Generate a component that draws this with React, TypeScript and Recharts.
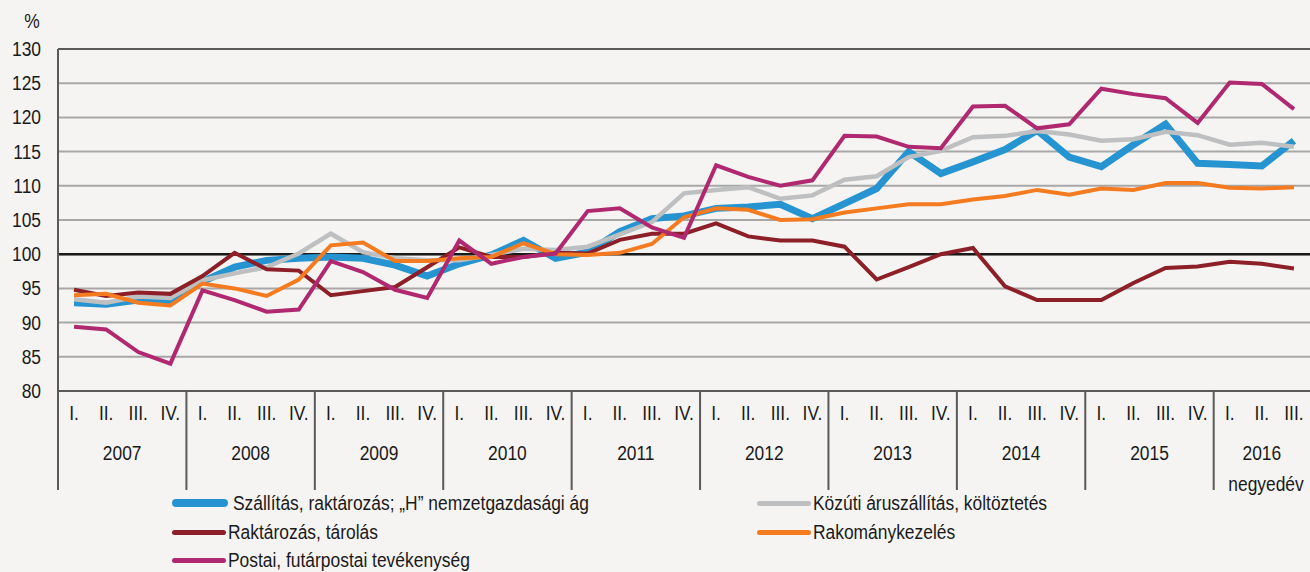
import { LineChart, Line, XAxis, YAxis, CartesianGrid, ReferenceLine } from "recharts";

const quarters = ["I.", "II.", "III.", "IV."];
const years = ["2007", "2008", "2009", "2010", "2011", "2012", "2013", "2014", "2015", "2016"];

// Szállítás, raktározás; „H” nemzetgazdasági ág
const szallitas = [
  92.9, 92.7, 93.3, 93.1, 96.0, 98.1, 99.1, 99.4,
  99.6, 99.4, 98.4, 96.8, 98.6, 99.9, 102.0, 99.4,
  100.3, 103.3, 105.2, 105.6, 106.7, 106.9, 107.3, 105.2,
  107.4, 109.6, 115.0, 111.8, 113.5, 115.3, 118.1, 114.2,
  112.8, 116.0, 119.0, 113.3, 113.1, 112.9, 116.6,
];
// Közúti áruszállítás, költöztetés
const kozuti = [
  93.4, 92.9, 93.8, 93.6, 96.2, 97.2, 98.1, 100.1,
  103.0, 100.3, 99.4, 99.1, 99.1, 99.9, 100.8, 100.6,
  101.1, 102.9, 104.7, 108.9, 109.4, 109.8, 108.1, 108.6,
  110.9, 111.4, 114.2, 115.1, 117.1, 117.3, 118.0, 117.5,
  116.6, 116.8, 117.9, 117.4, 116.0, 116.3, 115.7,
];
// Raktározás, tárolás
const raktarozas = [
  94.8, 93.9, 94.4, 94.2, 96.8, 100.2, 97.8, 97.6,
  94.0, 94.6, 95.2, 98.1, 101.0, 99.6, 99.6, 100.2,
  100.1, 102.1, 103.0, 103.0, 104.5, 102.6, 102.0, 102.0,
  101.1, 96.3, 98.1, 100.0, 100.9, 95.3, 93.3, 93.3,
  93.3, 95.8, 98.0, 98.2, 98.9, 98.6, 97.9,
];
// Rakománykezelés
const rakomany = [
  94.0, 94.2, 92.9, 92.5, 95.7, 95.0, 93.9, 96.3,
  101.3, 101.7, 99.0, 99.0, 99.4, 99.6, 101.6, 100.0,
  99.9, 100.2, 101.5, 105.4, 106.7, 106.5, 105.0, 105.1,
  106.1, 106.7, 107.3, 107.3, 108.0, 108.5, 109.4, 108.7,
  109.6, 109.4, 110.4, 110.4, 109.7, 109.6, 109.8,
];
// Postai, futárpostai tevékenység
const postai = [
  89.4, 89.0, 85.7, 84.0, 94.7, 93.3, 91.6, 91.9,
  99.0, 97.4, 94.8, 93.6, 102.0, 98.6, 99.6, 100.1,
  106.3, 106.7, 103.9, 102.4, 113.0, 111.3, 110.0, 110.8,
  117.3, 117.2, 115.7, 115.5, 121.6, 121.7, 118.4, 119.0,
  124.2, 123.4, 122.8, 119.2, 125.1, 124.9, 121.2,
];

const yTicks = [80, 85, 90, 95, 100, 105, 110, 115, 120, 125, 130];

const series = [
  { key: "szallitas", name: "Szállítás, raktározás; „H” nemzetgazdasági ág", color: "#2594d0", width: 7 },
  { key: "kozuti", name: "Közúti áruszállítás, költöztetés", color: "#bdbfc1", width: 4.5 },
  { key: "raktarozas", name: "Raktározás, tárolás", color: "#8c1f28", width: 4 },
  { key: "rakomany", name: "Rakománykezelés", color: "#f47b20", width: 4 },
  { key: "postai", name: "Postai, futárpostai tevékenység", color: "#b0286f", width: 4 },
];

const data = szallitas.map((_, i) => ({
  id: i,
  q: quarters[i % 4],
  year: years[Math.floor(i / 4)],
  szallitas: szallitas[i],
  kozuti: kozuti[i],
  raktarozas: raktarozas[i],
  rakomany: rakomany[i],
  postai: postai[i],
}));

const W = 1310;
const H = 572;
const LEFT = 58;
const TOP = 49;
const XH = 181;
const band = (W - LEFT) / data.length;
const font = "'Liberation Sans', Arial, sans-serif";
const ink = "#1a1a1a";
const SX = 0.87; // narrow lettering

function NarrowText({ x, y, anchor, size, children }: any) {
  return (
    <text
      transform={`translate(${x},${y}) scale(${SX},1)`}
      textAnchor={anchor}
      dy="0.35em"
      fontSize={size}
      fill={ink}
      fontFamily={font}
    >
      {children}
    </text>
  );
}

function QuarterTick(props: any) {
  const { x, y, payload } = props;
  const row = data[payload.value];
  const first = payload.value === 0 || data[payload.value - 1].year !== row.year;
  let count = 0;
  data.forEach((d) => { if (d.year === row.year) count++; });
  const left = x - band / 2;
  return (
    <g>
      <NarrowText x={x} y={y + 22} anchor="middle" size={20}>{row.q}</NarrowText>
      {first && (
        <>
          <line x1={left} x2={left} y1={y} y2={y + 99} stroke="#595959" strokeWidth={2} />
          <NarrowText x={left + (count * band) / 2} y={y + 62} anchor="middle" size={20}>{row.year}</NarrowText>
        </>
      )}
    </g>
  );
}

function ValueTick(props: any) {
  const { x, y, payload } = props;
  return <NarrowText x={x} y={y} anchor="end" size={20}>{payload.value}</NarrowText>;
}

function LegendItem({ s, x, y }: { s: (typeof series)[number]; x: number; y: number }) {
  const lineW = s.key === "szallitas" ? 56 : 54;
  return (
    <div style={{ position: "absolute", left: x, top: y - 12, height: 24, display: "flex", alignItems: "center", whiteSpace: "nowrap" }}>
      <div style={{ width: lineW, height: s.key === "szallitas" ? 8 : 5, background: s.color, borderRadius: 4 }} />
      <span
        style={{
          marginLeft: s.key === "szallitas" ? 5 : 2,
          fontFamily: font,
          fontSize: 20,
          color: ink,
          display: "inline-block",
          transform: `scaleX(${SX})`,
          transformOrigin: "left center",
        }}
      >
        {s.name}
      </span>
    </div>
  );
}

export default function App() {
  return (
    <div style={{ position: "absolute", left: 0, top: 0, width: W, height: H, background: "#f5f4f2", overflow: "hidden" }}>
      <LineChart width={W} height={H} data={data} margin={{ top: TOP, right: 0, left: 0, bottom: 0 }}>
        <CartesianGrid vertical={false} stroke="#a7a7a7" strokeWidth={2} />
        <XAxis
          dataKey="id"
          type="category"
          scale="band"
          height={XH}
          interval={0}
          tickLine={false}
          tickSize={0}
          tickMargin={0}
          axisLine={{ stroke: "#595959", strokeWidth: 2 }}
          tick={<QuarterTick />}
        />
        <YAxis
          domain={[80, 130]}
          ticks={yTicks}
          width={LEFT}
          interval={0}
          tickLine={false}
          tickMargin={11}
          axisLine={{ stroke: "#595959", strokeWidth: 2 }}
          tick={<ValueTick />}
        />
        <ReferenceLine y={130} stroke="#595959" strokeWidth={2} />
        <ReferenceLine y={100} stroke="#1a1a1a" strokeWidth={2.5} />
        {series.map((s) => (
          <Line
            key={s.key}
            dataKey={s.key}
            name={s.name}
            stroke={s.color}
            strokeWidth={s.width}
            dot={false}
            type="linear"
            isAnimationActive={false}
          />
        ))}
      </LineChart>
      <div style={{ position: "absolute", left: 23, top: 10, fontFamily: font, fontSize: 20, color: ink, transform: `scaleX(${SX})` }}>%</div>
      <div style={{ position: "absolute", right: 6, top: 473, fontFamily: font, fontSize: 20, color: ink, transform: `scaleX(${SX})`, transformOrigin: "right center" }}>
        negyedév
      </div>
      <LegendItem s={series[0]} x={172} y={503} />
      <LegendItem s={series[2]} x={172} y={532} />
      <LegendItem s={series[4]} x={172} y={560} />
      <LegendItem s={series[1]} x={757} y={503} />
      <LegendItem s={series[3]} x={757} y={532} />
    </div>
  );
}
